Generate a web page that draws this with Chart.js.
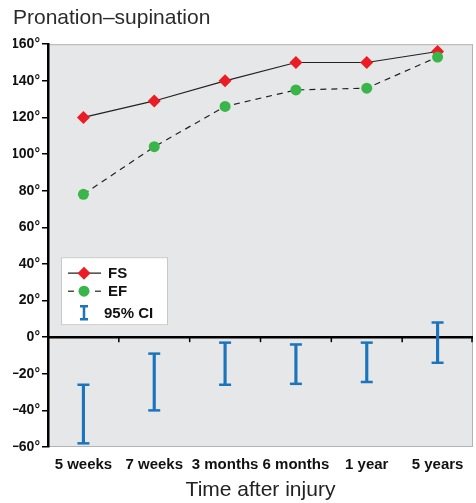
<!DOCTYPE html>
<html lang="en">
<head>
<meta charset="UTF-8" />
<title>Pronation–supination</title>
<script src="https://cdn.jsdelivr.net/npm/chart.js@4"></script>
<style>
  html, body { margin: 0; padding: 0; background: #fff; overflow: hidden; }
  #wrap { width: 476px; height: 503px; position: relative; }
</style>
</head>
<body>
<div id="wrap"><canvas id="chart"></canvas></div>
<script>
// data
const categories = ['5 weeks', '7 weeks', '3 months', '6 months', '1 year', '5 years'];
const fsValues = [120, 129, 140, 150, 150, 156];
const efValues = [78, 104, 126, 135, 136, 153];
const ciLow = [-58, -40, -26, -25.5, -24.5, -14];
const ciHigh = [-26, -9, -3, -4, -3, 8];
const yMin = -60, yMax = 160, yStep = 20;

const FONT = "'Liberation Sans', Arial, Helvetica, sans-serif";
const RED = '#ec1c24', GREEN = '#3ab54a', BLUE = '#1c75bc', PANEL = '#e6e7e8';

// grey panel behind the data + frame
const panelPlugin = {
  id: 'panel',
  beforeDraw(chart) {
    const { ctx, chartArea: a } = chart;
    ctx.save();
    ctx.fillStyle = PANEL;
    ctx.fillRect(a.left, a.top, a.right - a.left, a.bottom - a.top);
    ctx.strokeStyle = '#b3b3b3';
    ctx.lineWidth = 1;
    ctx.strokeRect(a.left + 0.5, a.top + 0.5, a.right - a.left - 1, a.bottom - a.top - 1);
    ctx.restore();
  },
  beforeDatasetsDraw(chart) {
    // zero line with category ticks hanging below it
    const { ctx, chartArea: a, scales } = chart;
    const y0 = scales.y.getPixelForValue(0);
    ctx.save();
    ctx.strokeStyle = '#000';
    ctx.lineWidth = 2.5;
    ctx.beginPath();
    ctx.moveTo(a.left, y0);
    ctx.lineTo(a.right, y0);
    ctx.stroke();
    ctx.lineWidth = 1.5;
    const x = scales.x;
    for (let i = 1; i <= categories.length; i++) {
      const px = (x.getPixelForValue(i - 1) + x.getPixelForValue(i)) / 2;
      const xx = i === categories.length ? a.right - 1 : px;
      ctx.beginPath();
      ctx.moveTo(xx, y0);
      ctx.lineTo(xx, y0 + 5);
      ctx.stroke();
    }
    ctx.restore();
  },
  afterDatasetsDraw(chart) {
    // caps for the CI bars
    const { ctx } = chart;
    const meta = chart.getDatasetMeta(2);
    ctx.save();
    ctx.strokeStyle = BLUE;
    ctx.lineWidth = 2.5;
    meta.data.forEach(bar => {
      [bar.y, bar.base].forEach(py => {
        ctx.beginPath();
        ctx.moveTo(bar.x - 6, py);
        ctx.lineTo(bar.x + 6, py);
        ctx.stroke();
      });
    });
    ctx.restore();
  },
  afterDraw(chart) {
    // hand drawn legend box
    const { ctx, chartArea: a } = chart;
    const bx = a.left + 13, by = a.top + 213, bw = 107, bh = 68;
    ctx.save();
    ctx.fillStyle = '#fff';
    ctx.fillRect(bx, by, bw, bh);
    ctx.strokeStyle = '#c8c8c8';
    ctx.lineWidth = 1;
    ctx.strokeRect(bx + 0.5, by + 0.5, bw - 1, bh - 1);

    const lx = bx + 7, mx = bx + 23, rx = bx + 40, tx = bx + 47;
    const r1 = by + 16, r2 = by + 34, r3 = by + 56;
    ctx.strokeStyle = '#222';
    ctx.lineWidth = 1.2;
    ctx.beginPath(); ctx.moveTo(lx, r1); ctx.lineTo(rx, r1); ctx.stroke();
    ctx.fillStyle = RED;
    ctx.beginPath();
    ctx.moveTo(mx, r1 - 6.5); ctx.lineTo(mx + 6.5, r1); ctx.lineTo(mx, r1 + 6.5); ctx.lineTo(mx - 6.5, r1);
    ctx.closePath(); ctx.fill();

    ctx.beginPath(); ctx.moveTo(lx, r2); ctx.lineTo(lx + 6, r2); ctx.stroke();
    ctx.beginPath(); ctx.moveTo(rx - 6, r2); ctx.lineTo(rx, r2); ctx.stroke();
    ctx.fillStyle = GREEN;
    ctx.beginPath(); ctx.arc(mx, r2, 5.5, 0, Math.PI * 2); ctx.fill();

    ctx.strokeStyle = BLUE;
    ctx.lineWidth = 2.5;
    ctx.beginPath();
    ctx.moveTo(mx - 4, r3 - 7); ctx.lineTo(mx + 4, r3 - 7);
    ctx.moveTo(mx, r3 - 7); ctx.lineTo(mx, r3 + 6);
    ctx.moveTo(mx - 4, r3 + 6); ctx.lineTo(mx + 4, r3 + 6);
    ctx.stroke();

    ctx.fillStyle = '#111';
    ctx.font = 'bold 15px ' + FONT;
    ctx.textBaseline = 'middle';
    ctx.textAlign = 'left';
    ctx.fillText('FS', tx, r1 + 1);
    ctx.fillText('EF', tx, r2 + 1);
    ctx.fillText('95% CI', bx + 43, r3 + 1);
    ctx.restore();
  }
};

new Chart(document.getElementById('chart'), {
  data: {
    labels: categories,
    datasets: [
      {
        type: 'line', label: 'FS', data: fsValues,
        borderColor: '#222', borderWidth: 1.2,
        pointStyle: 'rectRot', pointRadius: 6.5,
        pointBackgroundColor: RED, pointBorderColor: RED, pointBorderWidth: 0,
        tension: 0, order: 1
      },
      {
        type: 'line', label: 'EF', data: efValues,
        borderColor: '#222', borderWidth: 1.2, borderDash: [6, 5],
        pointStyle: 'circle', pointRadius: 5.5,
        pointBackgroundColor: GREEN, pointBorderColor: GREEN, pointBorderWidth: 0,
        tension: 0, order: 0
      },
      {
        type: 'bar', label: '95% CI',
        data: ciLow.map((lo, i) => [lo, ciHigh[i]]),
        backgroundColor: BLUE, borderWidth: 0,
        barThickness: 2.5, grouped: false, order: 2
      }
    ]
  },
  options: {
    responsive: true,
    maintainAspectRatio: false,
    animation: false,
    layout: { autoPadding: false, padding: { left: 13, right: 3, top: 0, bottom: 0 } },
    plugins: {
      legend: { display: false },
      tooltip: { enabled: false },
      title: {
        display: true, text: 'Pronation–supination', align: 'start',
        color: '#2b2b2b', font: { family: FONT, size: 21, weight: 'normal' },
        padding: { top: 6, bottom: 13 }
      }
    },
    scales: {
      x: {
        type: 'category', offset: true,
        grid: { display: false, drawTicks: false },
        border: { display: false },
        ticks: { color: '#111', font: { family: FONT, size: 15, weight: 'bold' }, padding: 9, maxRotation: 0, autoSkip: false },
        title: { display: true, text: 'Time after injury', color: '#222', font: { family: FONT, size: 21 }, padding: { top: 0, bottom: 0 } },
        afterFit(scale) {
          scale.height = 56;
          scale.paddingLeft = 0;
          scale.paddingRight = 0;
        }
      },
      y: {
        min: yMin, max: yMax,
        grid: { drawOnChartArea: false, drawTicks: true, tickLength: 6, color: '#000', lineWidth: 1.5 },
        border: { display: true, color: '#000', width: 2.5 },
        ticks: {
          stepSize: yStep, color: '#111', padding: 2,
          font: { family: FONT, size: 14, weight: 'bold' },
          callback: v => (v < 0 ? '\u2212' + Math.abs(v) : v) + '°'
        },
        afterFit(scale) { scale.width = 35; }
      }
    }
  },
  plugins: [panelPlugin]
});
</script>
</body>
</html>
